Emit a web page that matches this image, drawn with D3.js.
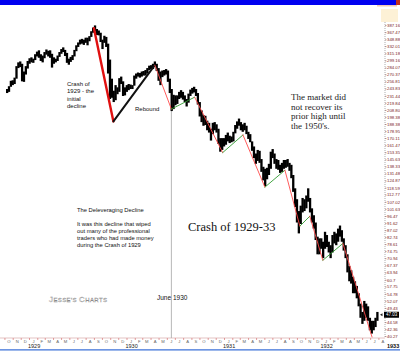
<!DOCTYPE html>
<html>
<head>
<meta charset="utf-8">
<script src="https://cdn.jsdelivr.net/npm/d3@7"></script>
<style>
  body { margin: 0; background: #fff; }
  svg { display: block; font-family: "Liberation Sans", Arial, sans-serif; }
</style>
</head>
<body>
<script>
// weekly bars [high, low], weeks starting Mon 8 Oct 1928
const firstWeek = new Date(1928, 9, 8);
const w1928 = [[243,236],[248,238],[258,247],[259,250],[264,252],[287,262],[295,283],[297,285],[292,257],[276,256],[287,270],[298,282],[304,292]];
const w1929 = [[306,295],[303,294],[313,300],[319,308],[322,305],[313,298],[310,295],[318,304],[324,312],[321,308],[322,305],[314,284],
  [306,292],[303,295],[310,298],[318,307],[325,314],[329,318],[323,309],[316,294],[303,290],[307,296],[311,300],[323,308],[334,320],
  [341,330],[348,336],[350,338],[348,335],[353,340],[353,334],[357,344],[370,355],[380,366],[386,369],[376,360],[372,359],[366,342],[348,325],
  [358,340],[355,330],[338,272],[301,226],[262,228],[240,221],[250,224],[246,234],[263,238],[266,252],[257,231],[246,232],[250,238]];
const w1930 = [[252,241],[251,243],[250,243],[268,249],[272,262],[274,266],[273,264],[276,266],[277,268],[279,268],[283,272],[288,279],[289,281],
  [292,281],[297,286],[292,277],[283,258],[276,250],[278,265],[279,268],[281,270],[278,256],[262,236],[243,207],[233,210],[232,216],
  [232,218],[238,226],[241,228],[238,225],[232,221],[226,214],[235,220],[242,231],[245,235],[247,237],[243,231],[236,217],[221,199],
  [208,191],[201,186],[200,187],[193,180],[190,177],[182,167],[190,175],[191,180],[188,177],[182,163],[170,154],[170,156],[170,160]];
const w1931 = [[174,162],[177,166],[173,164],[172,165],[178,166],[187,176],[192,182],[196,186],[191,180],[188,178],[190,180],[186,175],[178,169],
  [175,165],[166,155],[160,147],[152,141],[156,144],[155,142],[146,133],[138,125],[136,120],[137,126],[141,130],[154,136],[157,147],
  [152,141],[146,136],[145,135],[140,132],[142,133],[145,136],[145,137],[146,138],[142,134],[140,127],[130,115],[118,103],[109,92],
  [100,85],[104,91],[110,99],[109,100],[112,102],[118,107],[110,99],[102,92],[97,88],[92,81],[83,73],[82,73],[82,76]];
const w1932 = [[80,71],[86,76],[84,77],[80,74],[78,71],[84,74],[86,79],[85,78],[88,80],[90,83],[87,80],[82,75],[78,71],
  [73,64],[67,60],[65,59],[62,55],[60,55],[58,53],[55,50],[51,46],[48,44],[52,45],[51,46],[50,45],[46,42],[45,41],[45,42],[46,43],[48,45]];

// hand-drawn trend lines: pivot [date, value] and the kind of each segment
const pivots = [["1929-09-01",378],["1929-11-13",192],["1930-04-17",289],["1930-06-18",210],["1930-09-13",229],["1930-12-27",153],
  ["1931-03-13",174],["1931-06-03",119],["1931-08-17",134.6],["1931-10-12",89.6],["1931-11-18",96.3],["1932-01-06",69.9],
  ["1932-03-21",79],["1932-07-08",40]];
const segKinds = ["crash","rebound","down","up","down","up","down","up","down","up","down","up","down"];

const priceLabels = ["387.16","367.47","348.88","332.01","315.18","299.16","284.07","270.37","256.81","243.83","231.44","219.84",
  "208.80","198.38","188.38","178.95","170.11","161.47","153.35","145.63","138.33","131.48","124.87","118.59","112.77","107.02",
  "101.63","96.47","91.62","87.02","82.74","78.61","74.75","70.94","67.37","63.94","60.7","57.75","54.78","52.07","49.43",
  "46.95","44.58","42.36","40.27"];
const lastPrice = "47.03";
const years = ["1929","1930","1931","1932"];
const juneLine = "1930-06-18";

const W = 400, H = 353;
const parse = d3.timeParse("%Y-%m-%d");

const svg = d3.select("body").append("svg").attr("width", W).attr("height", H);
svg.append("rect").attr("width", W).attr("height", H).attr("fill", "#fff");

// top band
svg.append("rect").attr("width", W).attr("height", 5).attr("fill", "#0000f0");
svg.append("rect").attr("x", 396).attr("width", 4).attr("height", 5).attr("fill", "#c03020");
svg.append("rect").attr("x", 377).attr("y", 5).attr("width", 20).attr("height", 1.5).attr("fill", "#f2c9b4");
svg.append("rect").attr("x", 381).attr("y", 9).attr("width", 17).attr("height", 13).attr("fill", "#fdf1d6");

const x = d3.scaleTime().domain([new Date(1929, 0, 1), new Date(1932, 6, 8)]).range([29, 372]);
const y = d3.scaleLog().domain([40, 387.16]).range([337, 25]);

const bars = [...w1928, ...w1929, ...w1930, ...w1931, ...w1932]
  .map((p, i) => ({ date: d3.timeDay.offset(firstWeek, i * 7), hi: p[0], lo: p[1] }));

// bottom axis line + month ticks
svg.append("line").attr("x1", 0).attr("x2", 385).attr("y1", 338).attr("y2", 338)
  .attr("stroke", "#dcb4b4").attr("stroke-width", 0.8);

const months = d3.timeMonth.range(new Date(1928, 9, 1), new Date(1932, 8, 1));
const mAxis = svg.append("g").attr("transform", "translate(0,338)")
  .call(d3.axisBottom(x).tickValues(months).tickSize(2).tickPadding(0.5)
    .tickFormat(d => d3.timeFormat("%b")(d)[0]));
mAxis.select(".domain").remove();
mAxis.selectAll("line").attr("stroke", "#d06060").attr("stroke-width", 0.6);
mAxis.selectAll("text").attr("font-size", 4.2).attr("fill", "#666").attr("dx", 4);

svg.selectAll(".yr").data(years).join("text")
  .attr("x", d => x(new Date(+d, 0, 1)) - 1).attr("y", 348)
  .attr("font-size", 5.5).attr("fill", "#222").text(d => d);
svg.append("text").attr("x", 387).attr("y", 348).attr("font-size", 5.5)
  .attr("font-weight", "bold").attr("fill", "#111").text("1933");

svg.append("line").attr("x1", 0).attr("x2", W).attr("y1", 349.8).attr("y2", 349.8)
  .attr("stroke", "#3d72d8").attr("stroke-width", 1.3);

// right price axis
svg.append("line").attr("x1", 385).attr("x2", 385).attr("y1", 22).attr("y2", 338)
  .attr("stroke", "#777").attr("stroke-width", 0.6).attr("stroke-dasharray", "1,1");
const rAxis = svg.append("g").attr("transform", "translate(385,0)")
  .call(d3.axisRight(y).tickValues(priceLabels.map(Number)).tickSize(1.5).tickPadding(0.5)
    .tickFormat((d, i) => priceLabels[i]));
rAxis.select(".domain").remove();
rAxis.selectAll("line").attr("stroke", "#8a3a3a").attr("stroke-width", 0.5);
rAxis.selectAll("text").attr("font-size", 4.3).attr("fill", "#7a1c1c");

// last price marker
const yl = y(+lastPrice);
svg.append("path").attr("d", `M380,${yl}l2.5,-1.6v3.2z`).attr("fill", "#222");
svg.append("rect").attr("x", 384).attr("y", yl - 3).attr("width", 15).attr("height", 6).attr("fill", "#000");
svg.append("text").attr("x", 386).attr("y", yl + 1.6).attr("font-size", 4.5).attr("fill", "#fff").text(lastPrice);

// June 1930 marker line
svg.append("line").attr("x1", x(parse(juneLine))).attr("x2", x(parse(juneLine)))
  .attr("y1", 104).attr("y2", 338).attr("stroke", "#b0b0b0").attr("stroke-width", 0.9);

// price bars
svg.append("g").selectAll("rect").data(bars).join("rect")
  .attr("x", d => x(d.date) - 0.3)
  .attr("width", 2.3)
  .attr("y", d => y(d.hi))
  .attr("height", d => y(d.lo) - y(d.hi))
  .attr("fill", "#000");

// trend lines
const pts = pivots.map(p => [parse(p[0]), p[1]]);
const segStyle = {
  crash: { c: "#e01010", w: 2.4 },
  rebound: { c: "#111", w: 2 },
  down: { c: "#ff4a4a", w: 0.9 },
  up: { c: "#2f9a2f", w: 0.9 }
};
svg.append("g").selectAll("line").data(segKinds).join("line")
  .attr("x1", (k, i) => x(pts[i][0])).attr("y1", (k, i) => y(pts[i][1]))
  .attr("x2", (k, i) => x(pts[i + 1][0])).attr("y2", (k, i) => y(pts[i + 1][1]))
  .attr("stroke", k => segStyle[k].c).attr("stroke-width", k => segStyle[k].w)
  .attr("stroke-linecap", "round");

// annotations
function lines(arr, x0, y0, dy, size, opts = {}) {
  const t = svg.append("text").attr("font-size", size).attr("fill", opts.fill || "#111");
  if (opts.family) t.attr("font-family", opts.family);
  arr.forEach((s, i) => t.append("tspan").attr("x", x0).attr("y", y0 + i * dy).text(s));
  return t;
}
lines(["Crash of", "1929 - the", "initial", "decline"], 67, 85.5, 7.5, 6);
lines(["Rebound"], 135, 110.5, 0, 6);
lines(["The market did", "not recover its", "prior high until", "the 1950's."], 291, 100, 9.5, 9,
  { family: "'Liberation Serif', 'Times New Roman', serif", fill: "#1a1a1a" });
lines(["Crash of 1929-33"], 188, 231, 0, 12.5, { family: "'Liberation Serif', 'Times New Roman', serif", fill: "#111" });
lines(["The Deleveraging Decline"], 77, 212, 0, 5.8);
lines(["It was this decline that wiped", "out many of the professional", "traders who had made money",
  "during the Crash of 1929"], 77, 226, 7, 5.8);
lines(["June 1930"], 157, 299.5, 0, 6.5);

// watermark
const wm = svg.append("text").attr("x", 49).attr("y", 301.5).attr("fill", "#fff")
  .attr("stroke", "#8a8a8a").attr("stroke-width", 0.35).attr("letter-spacing", 0.4);
wm.append("tspan").attr("font-size", 8).text("J");
wm.append("tspan").attr("font-size", 6).text("ESSE'S ");
wm.append("tspan").attr("font-size", 8).text("C");
wm.append("tspan").attr("font-size", 6).text("HARTS");
</script>
</body>
</html>
